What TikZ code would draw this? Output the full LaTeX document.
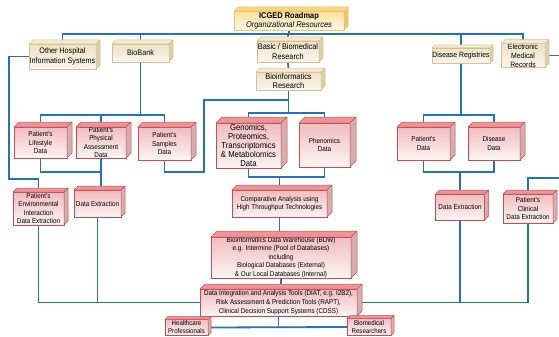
\documentclass[tikz,border=0pt]{standalone}
\usepackage{fontspec}
\setmainfont{Liberation Sans}[FakeStretch=0.9]
\usetikzlibrary{calc}
\pgfdeclarelayer{background}
\pgfsetlayers{background,main}
\definecolor{linkblue}{RGB}{42,112,180}
\definecolor{redline}{RGB}{196,78,84}
\definecolor{redtop}{RGB}{241,188,190}
\definecolor{redbot}{RGB}{253,244,244}
\definecolor{redface}{RGB}{233,150,155}
\definecolor{redside}{RGB}{214,172,174}
\definecolor{creamline}{RGB}{214,192,146}
\definecolor{creamtop}{RGB}{238,226,198}
\definecolor{creambot}{RGB}{250,246,238}
\definecolor{creamface}{RGB}{244,234,212}
\definecolor{creamside}{RGB}{222,206,170}
\definecolor{goldline}{RGB}{238,196,110}
\definecolor{goldtop}{RGB}{252,222,150}
\definecolor{goldbot}{RGB}{255,250,238}
\definecolor{goldface}{RGB}{250,214,128}
\definecolor{goldside}{RGB}{236,196,112}
\begin{document}
\begin{tikzpicture}[x=1pt,y=-1pt,
  base/.style={rectangle, inner sep=0pt, outer sep=0pt, align=center, line width=0.6pt},
  redbox/.style={base, draw=redline, top color=redtop, bottom color=redbot, font=\fontsize{7}{8.5}\selectfont},
  creambox/.style={base, draw=creamline, top color=creamtop, bottom color=creambot, font=\fontsize{8}{9.5}\selectfont},
  goldbox/.style={base, draw=goldline, top color=goldtop, bottom color=goldbot, font=\fontsize{8.3}{9}\selectfont},
  rtop/.style={fill=redface, draw=redline, line width=0.5pt, line join=round},
  rside/.style={fill=redside, draw=redline, line width=0.5pt, line join=round},
  ctop/.style={fill=creamface, draw=creamline, line width=0.5pt, line join=round},
  cside/.style={fill=creamside, draw=creamline, line width=0.5pt, line join=round},
  gtop/.style={fill=goldface, draw=goldline, line width=0.5pt, line join=round},
  gside/.style={fill=goldside, draw=goldline, line width=0.5pt, line join=round},
  link/.style={draw=linkblue, line width=1.8pt}]
\useasboundingbox (0,0) rectangle (559,337);

% ---- top level
\node[goldbox, minimum width=110pt, minimum height=19pt] (icged) at (289,20.5)
  {\textbf{ICGED Roadmap}\\\textit{Organizational Resources}};
\node[creambox, minimum width=67pt, minimum height=25pt] (oth) at (62.5,56.5)
  {Other Hospital\\Information Systems};
\node[creambox, minimum width=57pt, minimum height=18pt] (biob) at (140.5,53) {BioBank};
\node[creambox, minimum width=62pt, minimum height=21pt, font=\fontsize{8.2}{9.5}\selectfont] (basic) at (288,51.5)
  {Basic / Biomedical\\Research};
\node[creambox, minimum width=65pt, minimum height=18pt, font=\fontsize{8.2}{9}\selectfont] (bioR) at (288.5,81)
  {Bioinformatics\\Research};
\node[creambox, minimum width=58pt, minimum height=15pt, font=\fontsize{7.6}{9}\selectfont] (dreg) at (461,55.5)
  {Disease Registries};
\node[creambox, minimum width=44pt, minimum height=23pt, font=\fontsize{7.6}{9}\selectfont] (emr) at (523,55.5)
  {Electronic\\Medical\\Records};

% ---- second level
\node[redbox, minimum width=53pt, minimum height=31pt] (life) at (40.5,142.5)
  {Patient's\\Lifestyle\\Data};
\node[redbox, minimum width=50pt, minimum height=31pt, font=\fontsize{7}{8.2}\selectfont] (phys) at (101,142.5)
  {Patient's\\Physical\\Assessment\\Data};
\node[redbox, minimum width=53pt, minimum height=33pt] (samp) at (164.5,143.5)
  {Patient's\\Samples\\Data};
\node[redbox, minimum width=65pt, minimum height=45pt, font=\fontsize{8.6}{8.8}\selectfont] (gen) at (248.5,145.5)
  {Genomics,\\Proteomics,\\Transcriptomics\\\& Metabolomics\\Data};
\node[redbox, minimum width=51pt, minimum height=44pt] (phen) at (324.5,145)
  {Phenomics\\Data};
\node[redbox, minimum width=53pt, minimum height=33pt] (pdat) at (423.5,143.5)
  {Patient's\\Data};
\node[redbox, minimum width=52pt, minimum height=33pt] (ddat) at (494,143.5)
  {Disease\\Data};

% ---- third level
\node[redbox, minimum width=51pt, minimum height=33pt] (env) at (38.5,208.5)
  {Patient's\\Environmental\\Interaction\\Data Extraction};
\node[redbox, minimum width=47pt, minimum height=27pt] (dxl) at (97.5,203.5)
  {Data Extraction};
\node[redbox, minimum width=95pt, minimum height=27pt] (comp) at (279.5,203.5)
  {Comparative Analysis using\\High Throughput Technologies};
\node[redbox, minimum width=49pt, minimum height=26pt] (dxr) at (460,207)
  {Data Extraction};
\node[redbox, minimum width=50pt, minimum height=29pt] (clin) at (528,208.5)
  {Patient's\\Clinical\\Data Extraction};

% ---- bottom
\node[redbox, minimum width=140pt, minimum height=41pt] (bdw) at (281,257.5)
  {Bioinformatics Data Warehouse (BDW)\\e.g. Intermine (Pool of Databases)\\including\\Biological Databases (External)\\\& Our Local Databases (Internal)};
\node[redbox, minimum width=157pt, minimum height=27pt, font=\fontsize{7}{8.7}\selectfont] (diat) at (278.5,302.5)
  {Data Integration and Analysis Tools (DIAT, e.g. I2B2),\\Risk Assessment \& Prediction Tools (RAPT),\\Clinical Decision Support Systems (CDSS)};
\node[redbox, minimum width=43pt, minimum height=16pt, font=\fontsize{6.8}{8}\selectfont] (health) at (186.5,327.5)
  {Healthcare\\Professionals};
\node[redbox, minimum width=44pt, minimum height=17pt, font=\fontsize{6.8}{8}\selectfont] (biom) at (369,327)
  {Biomedical\\Researchers};

% ---- 3D faces
\foreach \n/\d/\t/\s in {icged/4/gtop/gside, oth/4/ctop/cside, biob/4/ctop/cside,
   basic/4/ctop/cside, bioR/4/ctop/cside, dreg/3/ctop/cside, emr/4/ctop/cside,
   life/5/rtop/rside, phys/5/rtop/rside, samp/5/rtop/rside, gen/6/rtop/rside,
   phen/6/rtop/rside, pdat/5/rtop/rside, ddat/5/rtop/rside, env/4/rtop/rside,
   dxl/4/rtop/rside, comp/5/rtop/rside, dxr/4/rtop/rside, clin/4/rtop/rside,
   bdw/6/rtop/rside, diat/5/rtop/rside, health/3/rtop/rside, biom/3/rtop/rside}{
  \filldraw[\t] (\n.north west) -- ++(\d,-\d) -- ($(\n.north east)+(\d,-\d)$) -- (\n.north east) -- cycle;
  \filldraw[\s] (\n.north east) -- ++(\d,-\d) -- ($(\n.south east)+(\d,-\d)$) -- (\n.south east) -- cycle;
}

% ---- connectors
\coordinate (bus) at ($(icged.south)+(0,4)$);
\coordinate (lt) at ($(oth.west)+(-20,0)$);
\coordinate (bb) at ($(biob.south)+(0,53)$);
\coordinate (jl) at ($(phys.south)+(0,14)$);
\coordinate (bendA) at (204,172);
\coordinate (bendB) at (204,100);
\coordinate (gb) at ($(bioR.south)+(0,23)$);
\coordinate (gc) at ($(comp.north)+(0,-13)$);
\coordinate (dr) at ($(dreg.south)+(0,52)$);
\coordinate (dj) at ($(dxr.north)+(0,-22)$);
\coordinate (offA) at (563,55.5);
\coordinate (offB) at (563,178);
\begin{pgfonlayer}{background}
\draw[link] (icged.south) -- (bus);
\draw[link] (oth.north) |- (bus) -| (emr.north);
\draw[link] (biob.north) -- (biob.north |- bus);
\draw[link] (basic.north) -- (basic.north |- bus);
\draw[link] (dreg.north) -- (dreg.north |- bus);
\draw[link] (basic.south) -- (bioR.north);
\draw[link] (oth.west) -- (lt) |- ($(env.north)+(0,-13)$) -- (env.north);
\draw[link] (biob.south) -- (bb);
\draw[link] (life.north) |- (bb) -| (samp.north);
\draw[link] (phys.north) -- (phys.north |- bb);
\draw[link] (life.south) |- (jl);
\draw[link] (phys.south) -- (phys.south |- dxl.north);
\draw[link] (samp.south) |- (bendA) -- (bendB) -| (bioR.south);
\draw[link] (bioR.south) -- (gb);
\draw[link] (gen.north) |- (gb) -| (phen.north);
\draw[link] (gen.south) |- (gc) -| (phen.south);
\draw[link] (gc) -- (comp.north);
\draw[link] (comp.south) -- (comp.south |- bdw.north);
\draw[link] (bdw.south) -- (bdw.south |- diat.north);
\draw[link] (health.east) -- (biom.west);
\draw[link] (diat.south) -- (diat.south |- health.east);
\draw[link] (env.south) |- (diat.west);
\draw[link] (dxl.south) -- (dxl.south |- diat.west);
\draw[link] (diat.east) -| (clin.south);
\draw[link] (dxr.south) -- (dxr.south |- diat.east);
\draw[link] (dreg.south) -- (dr);
\draw[link] (pdat.north) |- (dr) -| (ddat.north);
\draw[link] (pdat.south) |- (dj) -| (ddat.south);
\draw[link] (dj) -- (dxr.north);
\draw[link] (emr.east) -- (offA) -- (offB) -| (clin.north);
\end{pgfonlayer}
\end{tikzpicture}
\end{document}
